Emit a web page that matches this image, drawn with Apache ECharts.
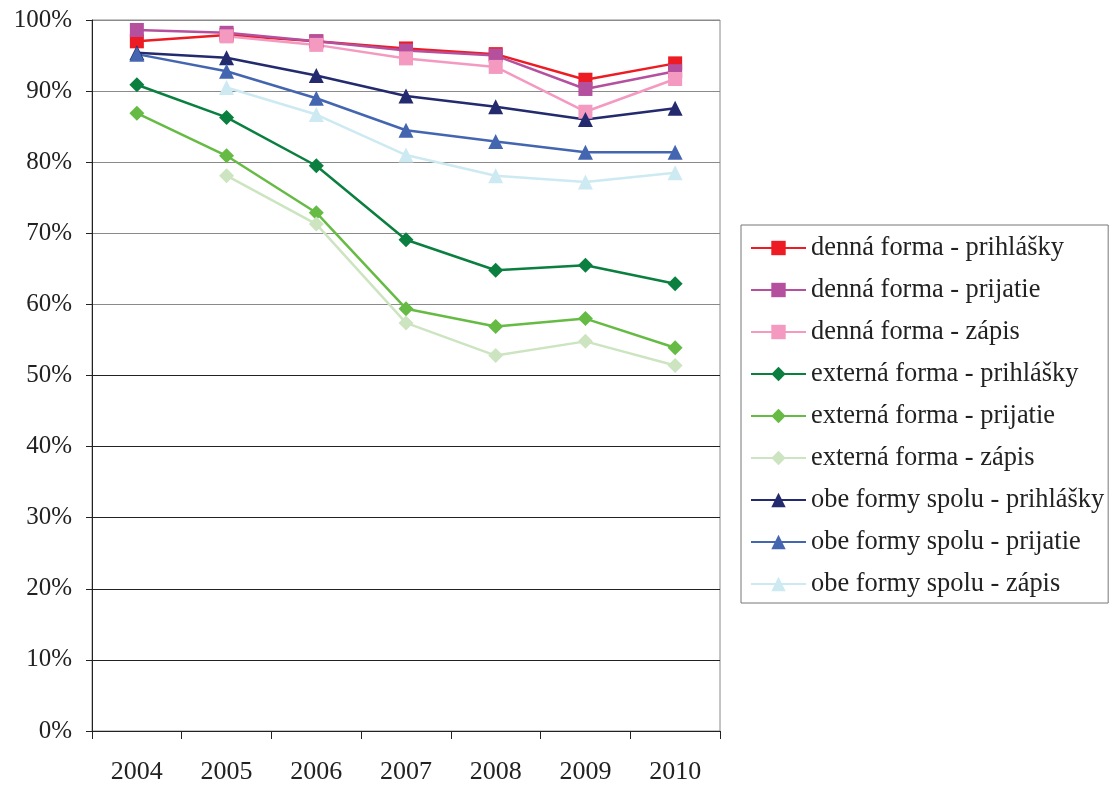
<!DOCTYPE html>
<html>
<head>
<meta charset="utf-8">
<script src="https://cdn.jsdelivr.net/npm/echarts@6/dist/echarts.min.js"></script>
<style>
html,body{margin:0;padding:0;background:#fff;}
#chart{width:1109px;height:785px;}
</style>
</head>
<body>
<div id="chart"></div>
<script>
const years = ['2004','2005','2006','2007','2008','2009','2010'];
const yTicks = [0,10,20,30,40,50,60,70,80,90,100];

const dennaPrihlasky = [97.0, 97.9, 97.0, 96.0, 95.2, 91.6, 93.9];
const dennaPrijatie  = [98.6, 98.2, 97.0, 95.7, 95.0, 90.3, 92.8];
const dennaZapis     = [null, 97.7, 96.5, 94.6, 93.4, 87.1, 91.7];
const externaPrihlasky = [90.9, 86.3, 79.5, 69.1, 64.8, 65.5, 62.9];
const externaPrijatie  = [86.9, 80.9, 72.9, 59.4, 56.9, 58.0, 53.9];
const externaZapis     = [null, 78.1, 71.3, 57.4, 52.8, 54.8, 51.4];
const obePrihlasky = [95.4, 94.7, 92.2, 89.3, 87.8, 86.0, 87.6];
const obePrijatie  = [95.2, 92.8, 89.0, 84.5, 82.9, 81.4, 81.4];
const obeZapis     = [null, 90.5, 86.7, 81.0, 78.1, 77.2, 78.5];

const seriesNames = [
  'denná forma - prihlášky','denná forma - prijatie','denná forma - zápis',
  'externá forma - prihlášky','externá forma - prijatie','externá forma - zápis',
  'obe formy spolu - prihlášky','obe formy spolu - prijatie','obe formy spolu - zápis'
];
const seriesData = [dennaPrihlasky,dennaPrijatie,dennaZapis,externaPrihlasky,externaPrijatie,externaZapis,obePrihlasky,obePrijatie,obeZapis];
const colors = ['#ED1C24','#B5509F','#F49AC1','#0A7F3F','#66BB44','#CCE5C0','#232A6E','#4466B0','#CDEAF2'];
const symbols = ['rect','rect','rect','diamond','diamond','diamond','triangle','triangle','triangle'];
const symbolSizes = [14,14,14,15,15,15,15,15,15];

const fontFam = '"Liberation Serif", "Times New Roman", serif';

const chart = echarts.init(document.getElementById('chart'));
chart.setOption({
  backgroundColor: '#fff',
  animation: false,
  grid: {left: 92, right: 389, top: 20, bottom: 54, show: true, borderColor: '#8a8a8a', borderWidth: 1},
  legend: {
    orient: 'vertical',
    left: 741, top: 225,
    padding: [10, 4, 6, 9],
    itemWidth: 55, itemHeight: 18, itemGap: 16,
    borderColor: '#777', borderWidth: 1,
    textStyle: {fontFamily: fontFam, fontSize: 26.4, color: '#222', lineHeight: 26},
    data: seriesNames
  },
  xAxis: {
    type: 'category', data: years, boundaryGap: true,
    axisLine: {lineStyle: {color: '#222', width: 1}},
    axisTick: {show: true, length: 8, lineStyle: {color: '#222'}},
    axisLabel: {fontFamily: fontFam, fontSize: 26, color: '#222', margin: 28},
    splitLine: {show: false}
  },
  yAxis: {
    type: 'value', min: 0, max: 100, interval: 10,
    axisLine: {show: true, lineStyle: {color: '#222', width: 1}},
    axisTick: {show: true, length: 6, lineStyle: {color: '#222'}},
    axisLabel: {fontFamily: fontFam, fontSize: 25, color: '#222', margin: 20, formatter: v => v + '%'},
    splitLine: {show: true, lineStyle: {width: 1, color: ['#222','#222','#222','#222','#222','#222','#8a8a8a','#8a8a8a','#8a8a8a','#8a8a8a','#8a8a8a']}}
  },
  series: seriesNames.map((n, i) => ({
    name: n, type: 'line', data: seriesData[i],
    symbol: symbols[i], symbolSize: symbolSizes[i], showSymbol: true,
    lineStyle: {color: colors[i], width: 2.5},
    itemStyle: {color: colors[i]},
    connectNulls: false
  }))
});
</script>
</body>
</html>
